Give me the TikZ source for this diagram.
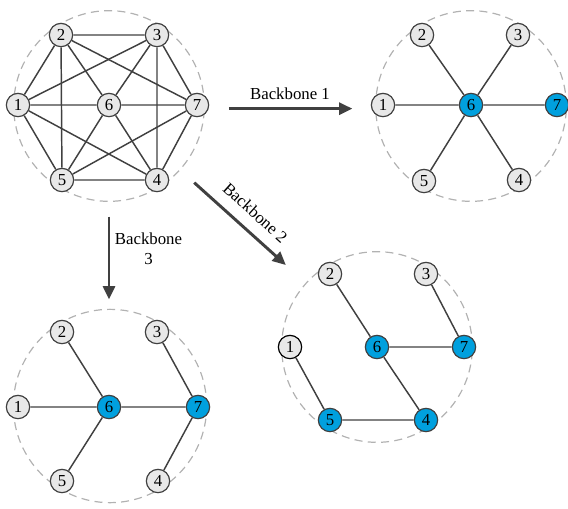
\documentclass[tikz,border=0pt]{standalone}
\usepackage{fontspec}
\setmainfont{Liberation Serif}
\usetikzlibrary{arrows.meta,backgrounds}

\begin{document}
\begin{tikzpicture}[
    x=0.75pt,
    y=-0.75pt,
    font=\fontsize{12.6}{15}\selectfont,
    vertex/.style={
        circle,
        draw=#1,
        fill=nodegray,
        line width=0.9pt,
        minimum size=17.5pt,
        inner sep=0pt
    },
    vertex/.default=edgegray,
    hub/.style={
        circle,
        draw=edgegray,
        fill=hubblue,
        line width=0.9pt,
        minimum size=17.5pt,
        inner sep=0pt
    },
    link/.style={
        line width=1.1pt,
        draw=edgegray
    },
    ring/.style={
        circle,
        draw=ringgray,
        dash pattern=on 6pt off 4pt,
        line width=0.9pt,
        minimum size=143pt,
        inner sep=0pt
    },
    arrow/.style={
        -{Triangle[length=10pt,width=9pt]},
        line width=2.2pt,
        draw=edgegray
    }
]

\definecolor{nodegray}{RGB}{232,232,232}
\definecolor{edgegray}{RGB}{64,64,64}
\definecolor{ringgray}{RGB}{178,178,178}
\definecolor{hubblue}{RGB}{0,160,222}

\useasboundingbox (0,0) rectangle (568,508);

% Full mesh
\begin{scope}[shift={(109,105)}]
\node[vertex] (m1) at (-91,0) {1};
\node[vertex] (m2) at (-48,-70) {2};
\node[vertex] (m3) at (48,-70) {3};
\node[vertex] (m4) at (48,75) {4};
\node[vertex] (m5) at (-47,75) {5};
\node[vertex] (m6) at (0,0) {6};
\node[vertex] (m7) at (88,0) {7};
\end{scope}

% Backbone 1: star around 6
\begin{scope}[shift={(471,105)}]
\node[vertex] (a1) at (-88,0) {1};
\node[vertex] (a2) at (-49,-70) {2};
\node[vertex] (a3) at (47,-70) {3};
\node[vertex] (a4) at (48,75) {4};
\node[vertex] (a5) at (-47,76) {5};
\node[hub] (a6) at (0,0) {6};
\node[hub] (a7) at (86,0) {7};
\end{scope}

% Backbone 2: chain 6-7, 6-4-5
\begin{scope}[shift={(377,347)}]
\node[vertex=black] (b1) at (-87,0) {1};
\node[vertex] (b2) at (-47,-73) {2};
\node[vertex] (b3) at (49,-73) {3};
\node[hub] (b4) at (49,73) {4};
\node[hub] (b5) at (-47,73) {5};
\node[hub] (b6) at (0,0) {6};
\node[hub] (b7) at (87,0) {7};
\end{scope}

% Backbone 3: 6 and 7 as hubs
\begin{scope}[shift={(109,407)}]
\node[vertex] (c1) at (-91,0) {1};
\node[vertex] (c2) at (-47,-75) {2};
\node[vertex] (c3) at (48,-75) {3};
\node[vertex] (c4) at (49,74) {4};
\node[vertex] (c5) at (-47,74) {5};
\node[hub] (c6) at (0,0) {6};
\node[hub] (c7) at (89,0) {7};
\end{scope}

% Dashed outlines
\begin{scope}[on background layer]
\node[ring] (ringM) at (109,106) {};
\node[ring] (ringA) at (471,106) {};
\node[ring] (ringB) at (377,347) {};
\node[ring, minimum size=145pt] (ringC) at (110,406) {};
\end{scope}

% Edges
\draw[link] (m1) -- (m2) (m1) -- (m3) (m1) -- (m4) (m1) -- (m5) (m1) -- (m6);
\draw[link] (m2) -- (m3) (m2) -- (m5) (m2) -- (m6) (m2) -- (m7);
\draw[link] (m3) -- (m4) (m3) -- (m6) (m3) -- (m7);
\draw[link] (m4) -- (m5) (m4) -- (m6) (m4) -- (m7);
\draw[link] (m5) -- (m6) (m5) -- (m7) (m6) -- (m7);

\draw[link] (a6) -- (a1) (a6) -- (a2) (a6) -- (a3);
\draw[link] (a6) -- (a4) (a6) -- (a5) (a6) -- (a7);

\draw[link] (b2) -- (b6) (b3) -- (b7) (b6) -- (b7);
\draw[link] (b6) -- (b4) (b1) -- (b5) (b5) -- (b4);

\draw[link] (c1) -- (c6) (c2) -- (c6) (c5) -- (c6);
\draw[link] (c6) -- (c7) (c3) -- (c7) (c7) -- (c4);

% Backbone arrows
\draw[arrow, shorten <=18pt, shorten >=17pt] ([yshift=-2pt]ringM.east) -- ([yshift=-2pt]ringA.west)
    node[midway, above=2pt] {Backbone 1};
\draw[arrow, shorten <=14pt, shorten >=20pt] (ringM) -- (ringB)
    node[midway, above=5pt, sloped] {Backbone 2};
\draw[arrow, shorten <=11pt, shorten >=7pt] (ringM.south) -- (ringC.north -| ringM.south)
    node[midway, right, align=center, yshift=5pt] {Backbone\\3};

\end{tikzpicture}
\end{document}
